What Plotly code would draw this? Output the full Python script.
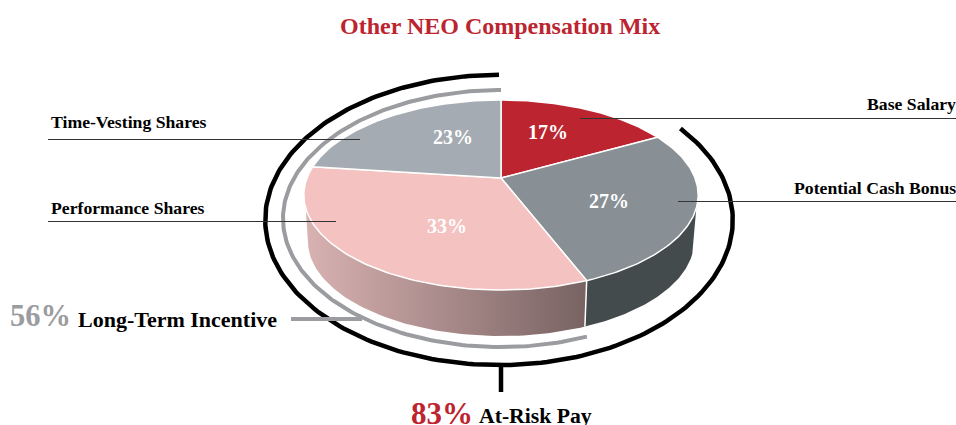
import numpy as np
import plotly.graph_objects as go

# ---- data ----
categories = ["Base Salary", "Potential Cash Bonus", "Performance Shares", "Time-Vesting Shares"]
shares = [17, 27, 33, 23]
slice_colors = ["#bc2530", "#888f95", "#f4c3c1", "#a5abb2"]
long_term_share = 56
at_risk_share = 83

# ---- geometry of the perspective pie (pixels in a 956x425 canvas) ----
K = 0.179


def project(pct, x0, y0, a, b):
    """Map a cumulative share (percent, clockwise from 12 o'clock) to the tilted disc."""
    t = np.radians(np.asarray(pct, dtype=float) * 3.6)
    u, v = np.sin(t), -np.cos(t)
    w = 1 - K * v
    return x0 + a * u / w, y0 + b * v / w


TOP = dict(x0=501, y0=178, a=194, b=92)
BOTTOM = dict(x0=501, y0=224, a=190, b=92)
RING_BLACK = dict(x0=499, y0=194, a=230, b=140.5)
RING_GRAY = dict(x0=501, y0=195.5, a=214.5, b=124.4)
BLACK_TRIM = 0.5   # the drawn ring stops slightly short of its share boundary
GRAY_TRIM = -0.6   # the drawn ring runs slightly past its share boundary
RIM_RIGHT_LIMIT = 30  # where the rim's silhouette leaves the top disc (right side)
RIM_LEFT_LIMIT = 70   # where the rim's silhouette leaves the top disc (left side)
RIM_LEFT_BOTTOM = 71

cum = np.concatenate([[0], np.cumsum(shares)])
fig = go.Figure()


def side(p0, p1, p1_bottom=None, **style):
    p1_bottom = p1 if p1_bottom is None else p1_bottom
    xt, yt = project(np.linspace(p0, p1, 80), **TOP)
    xb, yb = project(np.linspace(p1_bottom, p0, 80), **BOTTOM)
    fig.add_trace(go.Scatter(
        x=np.concatenate([xt, xb]), y=np.concatenate([yt, yb]),
        mode="lines", fill="toself", line=dict(width=0), hoverinfo="skip", **style))


# extruded rim
side(RIM_RIGHT_LIMIT, cum[2], fillcolor="#434b4c")
side(cum[2], RIM_LEFT_LIMIT, RIM_LEFT_BOTTOM, fillcolor="#c9a0a0",
     fillgradient=dict(type="horizontal", colorscale=[[0, "#d9b2b2"], [1, "#786262"]]))

# seam between the two rim colours
xs0, ys0 = project(cum[2], **TOP)
xs1, ys1 = project(cum[2], **BOTTOM)
fig.add_trace(go.Scatter(x=[xs0, xs1], y=[ys0, ys1], mode="lines",
                         line=dict(color="white", width=1.5), hoverinfo="skip"))

# top wedges
for i, name in enumerate(categories):
    pcts = np.linspace(cum[i], cum[i + 1], 100)
    xw, yw = project(pcts, **TOP)
    fig.add_trace(go.Scatter(
        x=np.concatenate([[TOP["x0"]], xw, [TOP["x0"]]]),
        y=np.concatenate([[TOP["y0"]], yw, [TOP["y0"]]]),
        mode="lines", fill="toself", fillcolor=slice_colors[i],
        line=dict(color="white", width=1.5), name=name, hoverinfo="name"))

# summary rings
xb, yb = project(np.linspace(100 - at_risk_share - BLACK_TRIM, 100, 240), **RING_BLACK)
fig.add_trace(go.Scatter(x=xb, y=yb, mode="lines", line=dict(color="black", width=4.5), hoverinfo="skip"))
xg, yg = project(np.linspace(100 - long_term_share - GRAY_TRIM, 100, 200), **RING_GRAY)
fig.add_trace(go.Scatter(x=xg, y=yg, mode="lines", line=dict(color="#9b9ca0", width=4), hoverinfo="skip"))

# stems and leader lines
segments = [
    ([501, 501], [364, 392], "black", 4.5),
    ([291, 362], [319, 319], "#9b9ca0", 4),
    ([580, 956], [118.5, 118.5], "#333333", 1.2),
    ([678, 956], [201.5, 201.5], "#333333", 1.2),
    ([48, 360], [139.5, 139.5], "#333333", 1.2),
    ([48, 336], [221.5, 221.5], "#333333", 1.2),
]
for sx, sy, col, wd in segments:
    fig.add_trace(go.Scatter(x=sx, y=sy, mode="lines", line=dict(color=col, width=wd), hoverinfo="skip"))

SERIF = "Liberation Serif"


def note(x, y, text, size, color="black", anchor="center", xshift=0):
    fig.add_annotation(x=x, y=y, text=f"<b>{text}</b>", showarrow=False, xanchor=anchor, yanchor="middle",
                       xshift=xshift, font=dict(family=SERIF, size=size, color=color))


note(500, 26, "Other NEO Compensation Mix", 24, "#bc2530")
note(956, 104, categories[0], 17.7, anchor="right", xshift=2)
note(956, 188, categories[1], 17.7, anchor="right", xshift=2)
note(49, 208, categories[2], 17.7, anchor="left")
note(49, 122, categories[3], 17.7, anchor="left")
for (px, py), s in zip([(548, 132), (609, 201), (447, 226), (453, 137)], shares):
    note(px, py, f"{s}%", 20, "white")
note(8, 316, f"{long_term_share}%", 30.5, "#9b9ca0", "left")
note(76, 319, "Long-Term Incentive", 22, "black", "left")
note(409, 413, f"{at_risk_share}%", 31, "#bc2530", "left")
note(477, 416, "At-Risk Pay", 21.7, "black", "left")

fig.update_layout(
    width=956, height=425, margin=dict(l=0, r=0, t=0, b=0),
    paper_bgcolor="white", plot_bgcolor="white", showlegend=False,
    xaxis=dict(range=[0, 956], visible=False, fixedrange=True),
    yaxis=dict(range=[425, 0], visible=False, fixedrange=True),
)
fig.write_html("out.html", config={"displayModeBar": False},
               post_script="document.body.style.margin='0';")
